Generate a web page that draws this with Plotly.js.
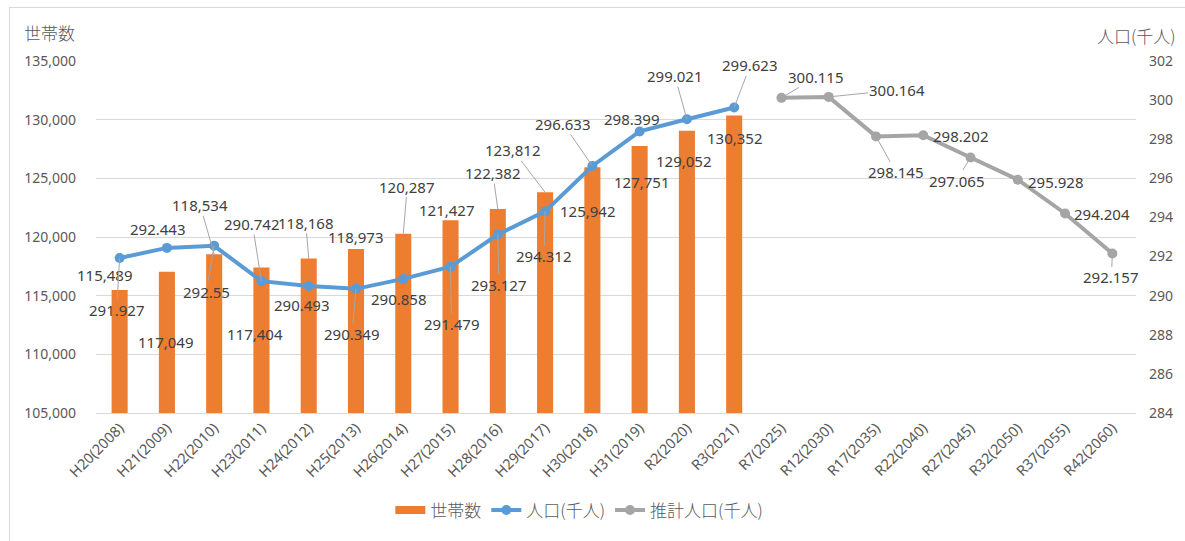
<!DOCTYPE html>
<html><head><meta charset="utf-8">
<script src="https://cdn.plot.ly/plotly-3.0.1.min.js"></script>
<style>
html,body{margin:0;padding:0;overflow:hidden;background:#fff;width:1185px;height:541px}
#chart{position:absolute;left:0;top:0;width:1185px;height:541px}
#frame{position:absolute;left:9px;top:7px;width:1200px;height:560px;border:1px solid #d9d9d9;pointer-events:none}
</style>
</head><body>
<div id="chart"></div><div id="frame"></div>
<script>
const categories = ["H20(2008)","H21(2009)","H22(2010)","H23(2011)","H24(2012)","H25(2013)","H26(2014)","H27(2015)","H28(2016)","H29(2017)","H30(2018)","H31(2019)","R2(2020)","R3(2021)","R7(2025)","R12(2030)","R17(2035)","R22(2040)","R27(2045)","R32(2050)","R37(2055)","R42(2060)"];
const households = [115489,117049,118534,117404,118168,118973,120287,121427,122382,123812,125942,127751,129052,130352];
const population = [291.927,292.443,292.55,290.742,290.493,290.349,290.858,291.479,293.127,294.312,296.633,298.399,299.021,299.623];
const projected = [300.115,300.164,298.145,298.202,297.065,295.928,294.204,292.157];
const popCats = categories.slice(0, population.length);
const projCats = categories.slice(population.length);

// data-label placement: [dx, dy, leaderLine]
const hhLabelPos = [[-15,-15,0],[-1,70,0],[-14,-49,1],[-6,67,0],[-3,-36,1],[0,-12,0],[4,-47,1],[-4,-10,0],[-5,-36,1],[-32,-42,1],[-4,44,0],[2,36,0],[-3,30,0],[1,22,0]];
const popLabelPos = [[-3,52,1],[-9,-19,0],[-8,46,1],[-9,-57,1],[-7,19,0],[-4,45,1],[-4,20,0],[1,57,1],[1,50,1],[-1,45,1],[-29,-42,1],[-8,-12,0],[-12,-43,1],[16,-42,1]];
const projLabelPos = [[35,-21,1],[68,-7,1],[20,36,1],[38,1,0],[-14,23,1],[38,2,0],[37,1,0],[-1,24,1]];

const labelFont = {family:"Noto Sans, Noto Sans CJK JP, sans-serif", size:15, color:"#404040"};
function mkLabel(x, y, yref, text, pos){
  const [dx, dy, lead] = pos;
  if (lead) return {x, y, xref:'x', yref, text, showarrow:true, arrowhead:0, arrowwidth:1, arrowcolor:'#a6a6a6', standoff:0, ax:dx, ay:dy, font:labelFont, borderpad:0};
  return {x, y, xref:'x', yref, text, showarrow:false, xshift:dx, yshift:-dy, font:labelFont};
}
const annotations = [];
households.forEach((v,i)=>annotations.push(mkLabel(popCats[i], v, 'y', v.toLocaleString('en-US'), hhLabelPos[i])));
population.forEach((v,i)=>annotations.push(mkLabel(popCats[i], v, 'y2', String(v), popLabelPos[i])));
projected.forEach((v,i)=>annotations.push(mkLabel(projCats[i], v, 'y2', String(v), projLabelPos[i])));
const titleFont = {family:"Noto Sans CJK JP, Noto Sans, sans-serif", size:17, color:"#595959", weight:300};
annotations.push({xref:'paper', yref:'paper', x:-0.0712, y:1.082, xanchor:'left', yanchor:'middle', text:'世帯数', showarrow:false, font:titleFont});
annotations.push({xref:'paper', yref:'paper', x:1.0404, y:1.072, xanchor:'right', yanchor:'middle', text:'人口(千人)', showarrow:false, font:titleFont});

const traces = [
  {type:'bar', name:'世帯数', x:popCats, y:households, marker:{color:'#ED7D31'}, yaxis:'y', showlegend:false, legendrank:1},
  {type:'scatter', mode:'lines', name:'世帯数', x:[null], y:[null], yaxis:'y', line:{color:'#ED7D31', width:8}, showlegend:true, legendrank:1},
  {type:'scatter', mode:'lines+markers', name:'人口(千人)', x:popCats, y:population, yaxis:'y2', line:{color:'#5B9BD5', width:4}, marker:{color:'#5B9BD5', size:10}, legendrank:2},
  {type:'scatter', mode:'lines+markers', name:'推計人口(千人)', x:projCats, y:projected, yaxis:'y2', line:{color:'#A5A5A5', width:4}, marker:{color:'#A5A5A5', size:10}, legendrank:3}
];
const tickFont = {family:"Noto Sans, sans-serif", size:14, color:"#595959"};
const layout = {
  width:1185, height:541,
  margin:{l:96, r:49, t:61, b:123},
  paper_bgcolor:'rgba(0,0,0,0)', plot_bgcolor:'#fff',
  bargap:0.66,
  showlegend:true,
  legend:{orientation:'h', x:0.283, xanchor:'left', y:-0.277, yanchor:'middle', font:{family:"Noto Sans CJK JP, sans-serif", size:17, color:'#595959', weight:300}, itemwidth:30, traceorder:'normal'},
  xaxis:{type:'category', categoryorder:'array', categoryarray:categories, tickangle:-45, tickfont:{family:"Noto Sans, sans-serif", size:14.5, color:'#595959'}, showgrid:false, showline:true, linecolor:'#d9d9d9', linewidth:1, ticks:'', range:[-0.5, categories.length-0.5]},
  yaxis:{range:[105000,135000], dtick:5000, tick0:105000, tickformat:',d', tickfont:tickFont, gridcolor:'#d9d9d9', gridwidth:1, zeroline:false, showline:false, ticks:'', ticklabelstandoff:19},
  yaxis2:{overlaying:'y', side:'right', range:[284,302], dtick:2, tick0:284, tickfont:tickFont, showgrid:false, zeroline:false, showline:false, ticks:'', ticklabelstandoff:12},
  annotations
};
Plotly.newPlot('chart', traces, layout, {staticPlot:true, displayModeBar:false});
</script>
</body></html>
